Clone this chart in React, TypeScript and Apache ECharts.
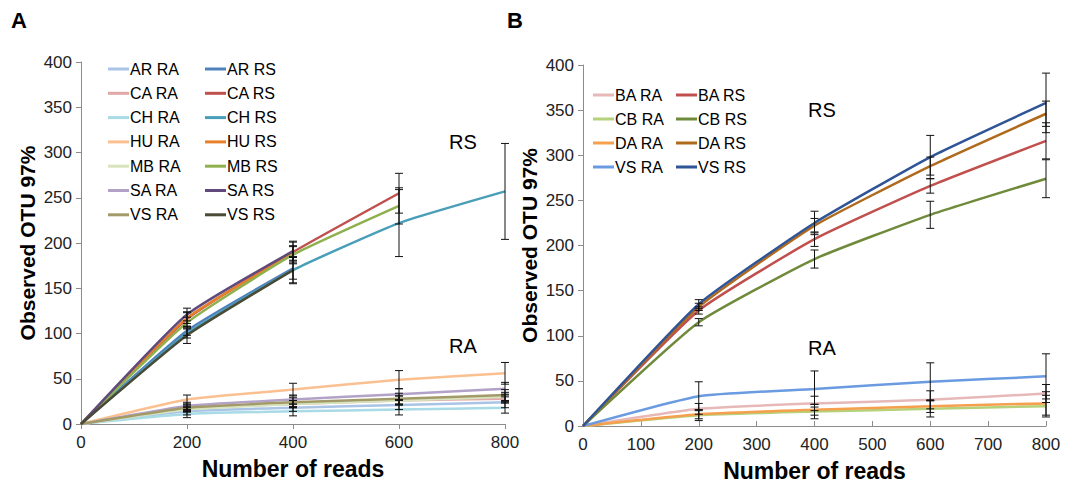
import React, { useEffect, useRef } from "react";
import * as echarts from "echarts";

const FONT = "'Liberation Sans', Arial, sans-serif";

// Panel A
const xA = [0, 200, 400, 600, 800];
const namesA_RA = ["AR RA", "CA RA", "CH RA", "HU RA", "MB RA", "SA RA", "VS RA"];
const namesA_RS = ["AR RS", "CA RS", "CH RS", "HU RS", "MB RS", "SA RS", "VS RS"];
const AR_RA = [0, 14, 18, 21, 24];
const CA_RA = [0, 17, 22, 26, 28];
const CH_RA = [0, 11, 14, 16, 18];
const HU_RA = [0, 27, 38, 49, 56];
const MB_RA = [0, 16, 22, 26, 30];
const SA_RA = [0, 20, 27, 33, 39];
const VS_RA = [0, 18, 24, 28, 32];
const AR_RS = [0, 103, 172];
const CA_RS = [0, 116, 190, 255];
const CH_RS = [0, 100, 170, 222, 257];
const HU_RS = [0, 117, 188];
const MB_RS = [0, 112, 187, 241];
const SA_RS = [0, 121, 191];
const VS_RS = [0, 98, 170];
const AR_RA_sd = [0, 4, 4, 5, 6];
const CA_RA_sd = [0, 3, 4, 5, 5];
const CH_RA_sd = [0, 4, 5, 6, 6];
const HU_RA_sd = [0, 5, 7, 10, 12];
const MB_RA_sd = [0, 3, 4, 5, 5];
const SA_RA_sd = [0, 4, 5, 6, 7];
const VS_RA_sd = [0, 4, 5, 6, 6];
const AR_RS_sd = [0, 5, 12];
const CA_RS_sd = [0, 8, 12, 22];
const CH_RS_sd = [0, 5, 14, 37, 53];
const HU_RS_sd = [0, 6, 8];
const MB_RS_sd = [0, 6, 10, 20];
const SA_RS_sd = [0, 7, 10];
const VS_RS_sd = [0, 9, 15];
const colorsA_RA = ["#a9c4e6", "#e0a8a6", "#a8dbe6", "#fac090", "#d7e4bd", "#b3a2c7", "#a39a6a"];
const colorsA_RS = ["#4f81bd", "#c0504d", "#4a9fb8", "#e8802a", "#8fb04f", "#604a7b", "#4a4a36"];

// Panel B
const xB = [0, 200, 400, 600, 800];
const namesB_RA = ["BA RA", "CB RA", "DA RA", "VS RA "];
const namesB_RS = ["BA RS", "CB RS", "DA RS", "VS RS "];
const BA_RA = [0, 19, 25, 29, 36];
const CB_RA = [0, 12, 16, 19, 22];
const DA_RA = [0, 13, 18, 22, 25];
const VSB_RA = [0, 33, 41, 49, 55];
const BA_RS = [0, 128, 207, 266, 316];
const CB_RS = [0, 115, 185, 234, 274];
const DA_RS = [0, 132, 222, 288, 346];
const VSB_RS = [0, 135, 225, 298, 358];
const BA_RA_sd = [0, 6, 8, 10, 10];
const CB_RA_sd = [0, 6, 8, 9, 12];
const DA_RA_sd = [0, 5, 6, 7, 13];
const VSB_RA_sd = [0, 16, 20, 21, 25];
const BA_RS_sd = [0, 4, 8, 8, 20];
const CB_RS_sd = [0, 4, 10, 15, 21];
const DA_RS_sd = [0, 4, 8, 10, 14];
const VSB_RS_sd = [0, 5, 13, 24, 33];
const colorsB_RA = ["#e6b9b8", "#b5d27a", "#f5a04e", "#6a9be0"];
const colorsB_RS = ["#c0504d", "#6f8a3a", "#b06a1c", "#2f5597"];

const valsA_RA = [AR_RA, CA_RA, CH_RA, HU_RA, MB_RA, SA_RA, VS_RA];
const sdA_RA = [AR_RA_sd, CA_RA_sd, CH_RA_sd, HU_RA_sd, MB_RA_sd, SA_RA_sd, VS_RA_sd];
const valsA_RS = [AR_RS, CA_RS, CH_RS, HU_RS, MB_RS, SA_RS, VS_RS];
const sdA_RS = [AR_RS_sd, CA_RS_sd, CH_RS_sd, HU_RS_sd, MB_RS_sd, SA_RS_sd, VS_RS_sd];
const valsB_RA = [BA_RA, CB_RA, DA_RA, VSB_RA];
const sdB_RA = [BA_RA_sd, CB_RA_sd, DA_RA_sd, VSB_RA_sd];
const valsB_RS = [BA_RS, CB_RS, DA_RS, VSB_RS];
const sdB_RS = [BA_RS_sd, CB_RS_sd, DA_RS_sd, VSB_RS_sd];

function lineSeries(names: string[], vals: number[][], colors: string[], xs: number[], gi: number) {
  return names.map((n, i) => ({
    name: n,
    type: "line",
    xAxisIndex: gi,
    yAxisIndex: gi,
    data: vals[i].map((v, j) => [xs[j], v]),
    showSymbol: false,
    symbol: "none",
    smooth: 0.15,
    color: colors[i],
    lineStyle: { color: colors[i], width: 2.5 },
    itemStyle: { color: colors[i] },
    z: 2,
  }));
}

function errData(valsList: number[][][], sdList: number[][][], xs: number[]) {
  const out: number[][] = [];
  valsList.forEach((vals, k) => {
    vals.forEach((arr, i) => {
      arr.forEach((v, j) => {
        const sd = sdList[k][i][j];
        if (j > 0 && sd > 0) out.push([xs[j], v - sd, v + sd]);
      });
    });
  });
  return out;
}

function errSeries(data: number[][], gi: number) {
  return {
    type: "custom",
    xAxisIndex: gi,
    yAxisIndex: gi,
    z: 5,
    silent: true,
    data,
    renderItem: (params: any, api: any) => {
      const x = api.value(0);
      const p1 = api.coord([x, api.value(2)]);
      const p2 = api.coord([x, api.value(1)]);
      const w = 4;
      const st = { stroke: "#111", lineWidth: 1 };
      return {
        type: "group",
        children: [
          { type: "line", shape: { x1: p1[0], y1: p1[1], x2: p2[0], y2: p2[1] }, style: st },
          { type: "line", shape: { x1: p1[0] - w, y1: p1[1], x2: p1[0] + w, y2: p1[1] }, style: st },
          { type: "line", shape: { x1: p2[0] - w, y1: p2[1], x2: p2[0] + w, y2: p2[1] }, style: st },
        ],
      };
    },
  };
}

function xAxis(gi: number, interval: number) {
  return {
    type: "value",
    gridIndex: gi,
    min: 0,
    max: 800,
    interval,
    name: "Number of reads",
    nameLocation: "middle",
    nameGap: 33,
    nameTextStyle: { fontFamily: FONT, fontSize: 23, fontWeight: "bold", color: "#000" },
    axisLine: { lineStyle: { color: "#8c8c8c", width: 1 } },
    axisTick: { show: true, length: 5, inside: gi === 1, lineStyle: { color: "#8c8c8c" } },
    axisLabel: { fontFamily: FONT, fontSize: 17, color: "#222", margin: 10 },
    splitLine: { show: false },
  };
}

function yAxis(gi: number) {
  return {
    type: "value",
    gridIndex: gi,
    min: 0,
    max: 400,
    interval: 50,
    name: "Observed OTU 97%",
    nameLocation: "middle",
    nameGap: 43,
    nameTextStyle: { fontFamily: FONT, fontSize: 21, fontWeight: "bold", color: "#000" },
    axisLine: { show: true, lineStyle: { color: "#8c8c8c", width: 1 } },
    axisTick: { show: true, length: 5, lineStyle: { color: "#8c8c8c" } },
    axisLabel: { fontFamily: FONT, fontSize: 17, color: "#222", margin: 9 },
    splitLine: { show: false },
  };
}

function legend(names: string[], left: number, top: number, gap: number) {
  return {
    orient: "vertical",
    left,
    top,
    data: names,
    icon: "rect",
    itemWidth: 21,
    itemHeight: 3,
    itemGap: gap,
    selectedMode: false,
    textStyle: { fontFamily: FONT, fontSize: 16, color: "#000", lineHeight: 14, padding: [0, 0, 0, -4] },
  };
}

export default function App() {
  const ref = useRef<HTMLDivElement>(null);
  useEffect(() => {
    if (!ref.current) return;
    const chart = echarts.init(ref.current, undefined, { renderer: "svg" });
    const option = {
      animation: false,
      backgroundColor: "#fff",
      grid: [
        { left: 81, top: 62, width: 424, height: 362 },
        { left: 583, top: 65, width: 463, height: 361 },
      ],
      xAxis: [xAxis(0, 200), xAxis(1, 100)],
      yAxis: [yAxis(0), yAxis(1)],
      legend: [
        legend(namesA_RA, 103, 56, 8.3),
        legend(namesA_RS, 200, 56, 8.3),
        legend(namesB_RA, 588, 82, 8),
        legend(namesB_RS, 671, 82, 8),
      ],
      graphic: [
        { type: "text", left: 11, top: 9, style: { text: "A", fontFamily: FONT, fontSize: 22, fontWeight: "bold", fill: "#000" } },
        { type: "text", left: 507, top: 9, style: { text: "B", fontFamily: FONT, fontSize: 22, fontWeight: "bold", fill: "#000" } },
        { type: "text", left: 449, top: 132, style: { text: "RS", fontFamily: FONT, fontSize: 20, fill: "#000" } },
        { type: "text", left: 449, top: 336, style: { text: "RA", fontFamily: FONT, fontSize: 20, fill: "#000" } },
        { type: "text", left: 808, top: 100, style: { text: "RS", fontFamily: FONT, fontSize: 20, fill: "#000" } },
        { type: "text", left: 808, top: 338, style: { text: "RA", fontFamily: FONT, fontSize: 20, fill: "#000" } },
      ],
      series: [
        ...lineSeries(namesA_RA, valsA_RA, colorsA_RA, xA, 0),
        ...lineSeries(namesA_RS, valsA_RS, colorsA_RS, xA, 0),
        ...lineSeries(namesB_RA, valsB_RA, colorsB_RA, xB, 1),
        ...lineSeries(namesB_RS, valsB_RS, colorsB_RS, xB, 1),
        errSeries(errData([valsA_RA, valsA_RS], [sdA_RA, sdA_RS], xA), 0),
        errSeries(errData([valsB_RA, valsB_RS], [sdB_RA, sdB_RS], xB), 1),
      ],
    };
    chart.setOption(option as any);
    return () => chart.dispose();
  }, []);
  return <div ref={ref} style={{ position: "fixed", left: 0, top: 0, width: 1081, height: 487 }} />;
}
